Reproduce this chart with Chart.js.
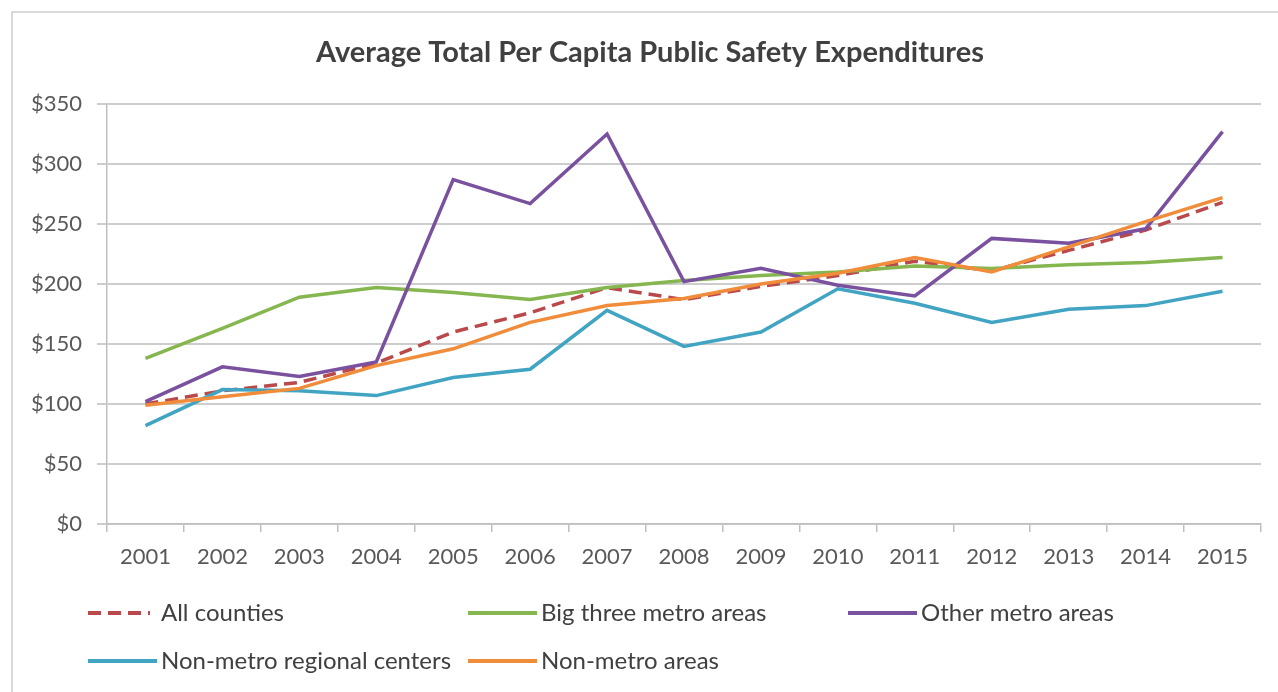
<!DOCTYPE html>
<html>
<head>
<meta charset="utf-8">
<title>Average Total Per Capita Public Safety Expenditures</title>
<script src="https://cdn.jsdelivr.net/npm/chart.js@4/dist/chart.umd.min.js"></script>
<style>
  html, body { margin: 0; padding: 0; background: #ffffff; }
  #wrap { position: relative; width: 1278px; height: 692px; }
</style>
</head>
<body>
<div id="wrap"><canvas id="chart" width="1278" height="692"></canvas></div>
<script>
// years on the x axis
const years = ['2001', '2002', '2003', '2004', '2005', '2006', '2007', '2008',
               '2009', '2010', '2011', '2012', '2013', '2014', '2015'];

// per capita spending, dollars
const allCounties     = [100, 111, 118, 134, 160, 176, 197, 187, 198, 207, 219, 211, 228, 245, 268];
const bigThreeMetro   = [138, 163, 189, 197, 193, 187, 197, 203, 207, 210, 215, 213, 216, 218, 222];
const otherMetro      = [102, 131, 123, 135, 287, 267, 325, 202, 213, 199, 190, 238, 234, 246, 327];
const nonMetroRegional = [82, 112, 111, 107, 122, 129, 178, 148, 160, 196, 184, 168, 179, 182, 194];
const nonMetroAreas   = [99, 106, 113, 132, 146, 168, 182, 188, 200, 209, 222, 210, 231, 252, 272];

// y axis ticks
const yMin = 0;
const yMax = 350;
const yStep = 50;

const seriesNames = ['All counties', 'Big three metro areas', 'Other metro areas',
                     'Non-metro regional centers', 'Non-metro areas'];
const seriesColors = ['#b9494a', '#86b64f', '#7a519e', '#40a4c2', '#f08c3a'];
const seriesValues = [allCounties, bigThreeMetro, otherMetro, nonMetroRegional, nonMetroAreas];

const FONT = 'Lato, "Open Sans", sans-serif';

// frame round the chart (only left and top show in the original)
const framePlugin = {
  id: 'frame',
  // left padding is only there to centre the title like the original,
  // so let the y labels use the space again (they get clipped to the box otherwise)
  afterLayout(chart) {
    chart.scales.y.left = 0;
  },
  beforeDraw(chart) {
    const ctx = chart.ctx;
    ctx.save();
    ctx.strokeStyle = '#d9d9d9';
    ctx.lineWidth = 2;
    ctx.beginPath();
    ctx.moveTo(12, chart.height);
    ctx.lineTo(12, 12);
    ctx.lineTo(chart.width, 12);
    ctx.stroke();
    ctx.restore();
  }
};

// excel style legend: three fixed columns, two rows
const gridLegend = {
  id: 'gridLegend',
  afterDraw(chart) {
    const ctx = chart.ctx;
    ctx.save();
    chart.data.datasets.forEach((ds, i) => {
      const col = i % 3;
      const row = Math.floor(i / 3);
      const x0 = 88 + col * 380;
      const y = 613 + row * 48;
      ctx.strokeStyle = ds.borderColor;
      ctx.lineWidth = 4;
      ctx.setLineDash(ds.borderDash || []);
      ctx.beginPath();
      ctx.moveTo(x0, y);
      ctx.lineTo(x0 + (ds.borderDash.length ? 62 : 69), y);
      ctx.stroke();
      ctx.setLineDash([]);
      ctx.fillStyle = '#404040';
      ctx.font = '24px ' + FONT;
      ctx.textBaseline = 'middle';
      ctx.textAlign = 'left';
      ctx.fillText(ds.label, x0 + 73, y);
    });
    ctx.restore();
  }
};

const datasets = seriesNames.map((name, i) => ({
  label: name,
  data: seriesValues[i],
  borderColor: seriesColors[i],
  backgroundColor: seriesColors[i],
  borderWidth: 3.5,
  borderDash: i === 0 ? [13, 7] : [],
  pointRadius: 0,
  tension: 0,
  order: seriesNames.length - i
}));

new Chart(document.getElementById('chart'), {
  type: 'line',
  data: { labels: years, datasets: datasets },
  options: {
    responsive: false,
    animation: false,
    layout: { padding: { left: 39, right: 17, top: 0, bottom: 100 } },
    plugins: {
      legend: { display: false },
      tooltip: { enabled: false },
      title: {
        display: true,
        text: 'Average Total Per Capita Public Safety Expenditures',
        color: '#404040',
        font: { family: FONT, size: 29, weight: 'bold', lineHeight: 1.2 },
        padding: { top: 35.6, bottom: 33.6 }
      }
    },
    scales: {
      x: {
        offset: true,
        grid: {
          offset: true,
          drawOnChartArea: false,
          drawTicks: true,
          tickLength: 8,
          color: '#bfbfbf',
          lineWidth: 1.5
        },
        border: { display: true, color: '#bfbfbf', width: 1.5 },
        ticks: {
          color: '#595959',
          font: { family: FONT, size: 22 },
          padding: 12,
          maxRotation: 0,
          autoSkip: false
        },
        afterFit(scale) { scale.height = 68; }
      },
      y: {
        min: yMin,
        max: yMax,
        grid: {
          color: '#cdcdcd',
          lineWidth: 2,
          drawTicks: true,
          tickLength: 10
        },
        border: { display: true, color: '#bfbfbf', width: 1.5 },
        ticks: {
          stepSize: yStep,
          color: '#595959',
          font: { family: FONT, size: 22 },
          padding: 15,
          callback: v => '$' + v
        },
        afterFit(scale) { scale.width = 68; }
      }
    }
  },
  plugins: [framePlugin, gridLegend]
});
</script>
</body>
</html>
